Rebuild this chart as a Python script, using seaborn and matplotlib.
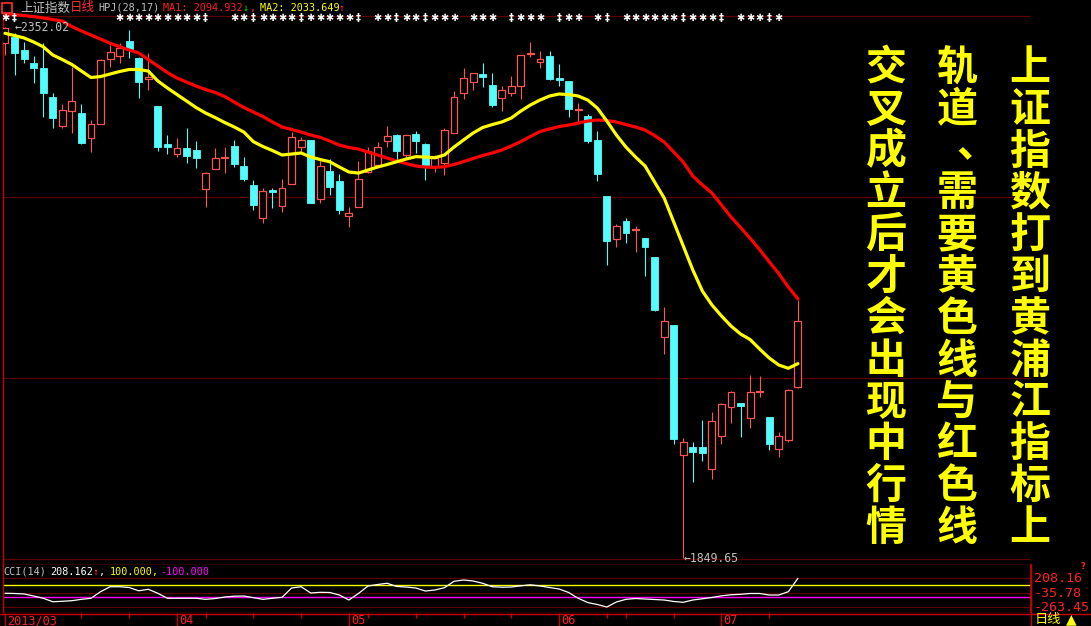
import matplotlib
matplotlib.use('Agg')
import matplotlib.pyplot as plt
import matplotlib.transforms as mtrans
from matplotlib.lines import Line2D
import numpy as np
import seaborn as sns

# ---- data (上证指数 daily, 2013-03-06 .. 2013-07-11) ----
opens = [2337.2, 2342.9, 2330.3, 2318.3, 2313.0, 2285.6, 2258.7, 2272.6, 2270.4, 2246.8,
         2260.3, 2321.5, 2324.9, 2338.8, 2322.4, 2302.6, 2277.3, 2241.4, 2231.6, 2237.6,
         2235.7, 2198.5, 2217.4, 2227.8, 2239.5, 2220.6, 2202.6, 2171.1, 2197.9, 2183.0,
         2203.3, 2238.8, 2245.2, 2189.1, 2216.1, 2206.4, 2173.3, 2181.5, 2215.2, 2221.5,
         2244.5, 2249.9, 2231.0, 2250.8, 2241.4, 2219.9, 2223.7, 2252.1, 2289.3, 2300.3,
         2307.6, 2297.2, 2284.6, 2289.9, 2296.5, 2326.5, 2319.2, 2324.6, 2303.5, 2301.0,
         2273.3, 2267.9, 2245.2, 2192.2, 2151.8, 2168.5, 2160.3, 2152.2, 2134.2, 2059.1,
         2070.1, 1947.5, 1954.7, 1954.7, 1934.2, 1965.4, 1992.9, 1996.4, 1982.5, 2006.5,
         1983.1, 1953.1, 1961.4, 2011.2]
highs = [2352.02, 2346.4, 2338.2, 2324.6, 2336.6, 2289.3, 2279.2, 2314.5, 2279.2, 2264.1,
         2321.5, 2335.0, 2336.6, 2349.2, 2324.0, 2327.2, 2277.3, 2249.9, 2246.8, 2256.2,
         2244.2, 2214.6, 2237.9, 2238.8, 2245.2, 2229.4, 2207.3, 2199.5, 2200.0, 2208.0,
         2253.0, 2248.3, 2245.2, 2226.2, 2226.9, 2213.0, 2181.5, 2225.3, 2238.8, 2243.0,
         2258.4, 2250.8, 2249.9, 2253.7, 2242.6, 2231.0, 2256.2, 2291.5, 2313.6, 2308.3,
         2318.3, 2308.8, 2296.2, 2305.7, 2325.6, 2338.2, 2329.4, 2329.4, 2317.1, 2301.0,
         2279.9, 2269.5, 2253.7, 2192.2, 2165.4, 2171.7, 2163.8, 2152.2, 2134.2, 2087.5,
         2070.1, 1963.0, 1959.5, 1980.3, 1987.8, 1996.1, 2007.7, 1996.4, 2022.8, 2021.9,
         1983.1, 1968.9, 2009.6, 2093.8]
lows = [2325.6, 2306.6, 2317.7, 2299.4, 2267.2, 2256.2, 2256.2, 2252.1, 2241.4, 2234.1,
        2260.3, 2314.5, 2318.3, 2323.0, 2284.6, 2292.5, 2235.0, 2231.6, 2229.4, 2223.1,
        2219.0, 2182.1, 2217.4, 2214.2, 2219.3, 2206.7, 2178.9, 2166.9, 2180.5, 2177.3,
        2203.3, 2234.1, 2185.3, 2185.8, 2193.1, 2175.2, 2162.6, 2181.5, 2214.2, 2219.9,
        2238.3, 2226.2, 2227.8, 2233.1, 2207.3, 2215.2, 2212.0, 2251.5, 2283.9, 2292.5,
        2295.6, 2276.7, 2272.9, 2286.8, 2283.9, 2324.0, 2313.6, 2301.9, 2296.2, 2267.2,
        2262.5, 2242.6, 2206.7, 2126.9, 2144.2, 2148.0, 2139.5, 2116.5, 2083.7, 2043.0,
        1957.6, 1849.65, 1921.9, 1941.8, 1924.8, 1957.3, 1977.7, 1964.5, 1973.0, 2002.3,
        1951.9, 1945.6, 1959.8, 2010.3]
closes = [2350.8, 2327.7, 2321.8, 2313.6, 2289.3, 2266.3, 2273.5, 2282.1, 2242.0, 2260.0,
          2320.8, 2328.1, 2331.9, 2331.0, 2300.3, 2304.5, 2238.8, 2238.8, 2237.3, 2230.3,
          2227.8, 2213.7, 2227.8, 2228.8, 2222.2, 2208.5, 2183.7, 2196.9, 2195.7, 2199.5,
          2247.7, 2245.2, 2185.8, 2220.6, 2201.0, 2178.9, 2175.8, 2208.0, 2234.8, 2238.3,
          2248.9, 2235.0, 2249.9, 2244.5, 2220.6, 2227.8, 2254.6, 2285.6, 2303.5, 2308.3,
          2305.0, 2278.3, 2292.5, 2296.2, 2325.6, 2327.2, 2321.5, 2302.9, 2301.9, 2274.5,
          2274.2, 2244.5, 2213.0, 2149.9, 2163.8, 2157.5, 2161.0, 2144.2, 2084.3, 2073.6,
          1962.6, 1959.2, 1950.3, 1949.3, 1979.0, 1995.4, 2006.5, 1993.8, 2006.5, 2007.4,
          1957.9, 1965.1, 2008.7, 2073.9]

# MA1 (red) and MA2 (yellow)
ma1 = [2364.4, 2363.9, 2362.9, 2362.0, 2360.6, 2359.2, 2357.7, 2352.5, 2348.3, 2344.5,
       2340.7, 2336.6, 2333.6, 2330.3, 2327.5, 2321.3, 2315.2, 2309.0, 2303.8, 2300.0,
       2296.2, 2292.9, 2290.1, 2286.3, 2281.1, 2275.9, 2271.6, 2267.4, 2262.2, 2257.5,
       2255.1, 2252.7, 2249.9, 2247.7, 2244.2, 2240.4, 2238.1, 2236.6, 2233.8, 2231.0,
       2228.1, 2225.3, 2222.9, 2220.6, 2219.6, 2219.3, 2219.9, 2222.0, 2224.8, 2227.7,
       2230.5, 2232.9, 2235.7, 2239.5, 2243.7, 2248.5, 2253.2, 2255.6, 2257.9, 2259.3,
       2261.2, 2263.1, 2264.1, 2263.6, 2262.2, 2259.8, 2257.5, 2254.6, 2249.4, 2243.3,
       2233.8, 2224.3, 2211.1, 2202.6, 2195.0, 2183.7, 2172.3, 2162.4, 2152.1, 2141.4,
       2130.0, 2118.7, 2106.1, 2094.9]
ma2 = [2346.1, 2344.0, 2341.7, 2337.9, 2333.4, 2325.6, 2321.3, 2316.6, 2310.4, 2304.3,
       2305.2, 2307.6, 2310.0, 2311.9, 2311.9, 2310.4, 2301.0, 2294.4, 2288.2, 2282.1,
       2275.9, 2270.7, 2266.4, 2261.7, 2257.5, 2252.7, 2243.6, 2239.0, 2235.2, 2231.0,
       2231.9, 2232.9, 2229.1, 2226.7, 2224.6, 2219.6, 2214.9, 2213.9, 2216.8, 2219.6,
       2222.0, 2224.6, 2227.2, 2229.4, 2229.1, 2228.4, 2231.0, 2238.5, 2245.2, 2251.8,
       2257.0, 2259.8, 2262.2, 2266.0, 2272.6, 2278.3, 2283.0, 2286.8, 2288.7, 2288.2,
       2286.8, 2283.0, 2275.4, 2263.1, 2249.9, 2238.5, 2229.1, 2220.6, 2205.4, 2190.3,
       2167.6, 2144.9, 2122.2, 2102.3, 2089.1, 2078.7, 2069.2, 2061.6, 2056.4, 2047.4,
       2038.9, 2032.3, 2029.2, 2033.6]

cci = [-35, -38, -46, -79, -116, -172, -165, -155, -133, -116,
       -9, 72, 72, 59, 6, 30, -35, -116, -116, -116,
       -116, -133, -120, -95, -82, -79, -106, -133, -116, -100,
       51, 72, -30, -19, -22, -63, -144, -38, 84, 108,
       128, 76, 67, 51, 2, 19, 56, 160, 181, 165,
       128, 72, 64, 67, 87, 103, 84, 59, 35, -22,
       -116, -185, -217, -258, -176, -133, -120, -128, -136, -144,
       -168, -181, -144, -124, -103, -76, -59, -51, -38, -38,
       -63, -63, -9, 208.162]

price_grid = [2362.3, 2191.0, 2019.7, 1848.4]
cci_grid = [208.16, -35.78, -263.45]
cci_labels = ['208.16', '-35.78', '-263.45']

month_pos = [0, 18, 36, 58, 75]
month_labels = ['2013/03', '04', '05', '06', '07']
week_pos = [8, 13, 21, 26, 31, 38, 43, 48, 53, 63, 65, 70, 80]

star_pos = [0, 1] + list(range(12, 22)) + list(range(24, 38)) + list(range(39, 48)) + \
           [49, 50, 51, 53, 54, 55, 56, 58, 59, 60, 62, 63] + list(range(65, 76)) + \
           [77, 78, 79, 80, 81]
dagger_pos = [1, 21, 26, 31, 37, 41, 44, 53, 58, 63, 71, 75, 80]

title_lines = ['上证指数打到黄浦江指标上', '轨道、需要黄色线与红色线', '交叉成立后才会出现中行情']

# ---- styling ----
sns.set_theme(style='dark', rc={'axes.facecolor': 'black', 'figure.facecolor': 'black'})
plt.rcParams['font.family'] = ['DejaVu Sans Mono', 'Noto Sans CJK SC']
CJK = ['Noto Sans CJK SC', 'DejaVu Sans']
MONO = ['DejaVu Sans Mono', 'DejaVu Sans']

UP = '#FF5454'
DOWN = '#54FCFC'
GRID = '#5e0000'
BORDER = '#c80000'

W, H = 1091, 626
fig = plt.figure(figsize=(W / 100, H / 100), dpi=100)
fig.patch.set_facecolor('black')


def fx(px):
    return px / W


def fy(py):
    return 1 - py / H


x = np.arange(len(opens))
o = np.array(opens); c = np.array(closes); h = np.array(highs); l = np.array(lows)
up = c >= o
dn = ~up

ax = fig.add_axes([fx(3), fy(565), 1028 / W, 562 / H])
axc = fig.add_axes([fx(3), fy(613), 1028 / W, 48 / H], sharex=ax)
axd = fig.add_axes([fx(3), 0, 1028 / W, 13 / H], sharex=ax)

for a in (ax, axc, axd):
    a.set_facecolor('black')
    a.set_xticks([]); a.set_yticks([])
    for s in a.spines.values():
        s.set_visible(False)
    a.grid(False)

ax.set_xlim(-0.21, 107.4)
ax.set_ylim(1843.1, 2374.8)
axc.set_ylim(-355.3, 425.2)
axd.set_ylim(0, 1)

for a in (ax, axc):
    a.spines['left'].set_visible(True)
    a.spines['left'].set_color(BORDER)
    a.spines['bottom'].set_visible(True)
    a.spines['bottom'].set_color(BORDER)
    a.spines['left'].set_linewidth(1.0)
    a.spines['bottom'].set_linewidth(1.0)
axc.spines['right'].set_visible(True)
axc.spines['right'].set_color(BORDER)

# grid lines
for g in price_grid:
    ax.axhline(g, color=GRID, lw=0.9, zorder=0)
for g in cci_grid:
    axc.axhline(g, color=GRID, lw=0.9, zorder=0)

# candles
bw = 0.72
ax.vlines(x[dn], l[dn], h[dn], color=DOWN, lw=0.8, zorder=2)
ax.bar(x[dn], o[dn] - c[dn], bottom=c[dn], width=bw, color=DOWN, edgecolor=DOWN,
       linewidth=0.6, zorder=3)
ax.vlines(x[up], c[up], h[up], color=UP, lw=0.8, zorder=2)
ax.vlines(x[up], l[up], o[up], color=UP, lw=0.8, zorder=2)
ax.bar(x[up], np.maximum(c[up] - o[up], 0.4), bottom=o[up], width=bw, facecolor='black',
       edgecolor=UP, linewidth=0.9, zorder=3)

# moving averages
sns.lineplot(x=x, y=ma1, ax=ax, color='#FF0000', linewidth=2.3, zorder=5, legend=False)
sns.lineplot(x=x, y=ma2, ax=ax, color='#FFFF00', linewidth=2.3, zorder=5, legend=False)
ax.set_xlabel(''); ax.set_ylabel('')

# high / low marks
imax = int(np.argmax(h)); imin = int(np.argmin(l))
ax.text(imax + 1.0, h[imax], '←%.2f' % h[imax], color='#C0C0C0', fontsize=8.3,
        family=MONO, ha='left', va='center', zorder=6)
ax.text(imin, l[imin], '←%.2f' % l[imin], color='#C0C0C0', fontsize=8.3,
        family=MONO, ha='left', va='center', zorder=6)

# info-mine markers on top row
tr = mtrans.blended_transform_factory(ax.transData, ax.transAxes)
for p in star_pos:
    ch = '‡' if p in dagger_pos else '✱'
    ax.text(p, 0.974, ch, transform=tr, color='white', fontsize=7, family=['DejaVu Sans'],
            ha='center', va='center', fontweight='bold', zorder=7)

# CCI panel
axc.axhline(100, color='#FFFF00', lw=1.0, zorder=1)
axc.axhline(-100, color='#FF00FF', lw=1.0, zorder=1)
sns.lineplot(x=x, y=cci, ax=axc, color='white', linewidth=0.9, zorder=4, legend=False)
axc.set_xlabel(''); axc.set_ylabel('')
trc = mtrans.blended_transform_factory(axc.transAxes, axc.transData)
for v, s in zip(cci_grid, cci_labels):
    axc.text(1.003, v, s, transform=trc, color='#FF2020', fontsize=9.6, family=MONO,
             ha='left', va='center', clip_on=False)
fig.text(fx(1083), fy(566.5), '?', color='#FF2020', fontsize=6, fontweight='bold',
         family=['DejaVu Sans'], ha='center', va='center')

# date row
axd.vlines(month_pos, 0, 1, color=BORDER, lw=1.0)
axd.vlines(week_pos, 0.6, 1, color=BORDER, lw=1.0)
for p, s in zip(month_pos, month_labels):
    axd.text(p + 0.2, 0.42, s, color='#FF2020', fontsize=8.6, family=MONO,
             ha='left', va='center')
fig.add_artist(Line2D([fx(0), fx(1031)], [fy(613.5), fy(613.5)], color=BORDER, lw=1.0))
fig.add_artist(Line2D([fx(1031), fx(1031)], [fy(565), fy(626)], color=BORDER, lw=1.0))
fig.add_artist(Line2D([fx(1031), fx(1091)], [fy(613.5), fy(613.5)], color=BORDER, lw=1.0))
fig.text(fx(1035), fy(619.5), '日线', color='#FFFF00', fontsize=9.5, family=CJK,
         ha='left', va='center')
fig.text(fx(1066), fy(619.5), '▲', color='#FFFF00', fontsize=10, family=['DejaVu Sans'],
         ha='left', va='center')

# header
hy = fy(8)
fig.patches.append(plt.Rectangle((fx(2), fy(13)), 10 / W, 10 / H, transform=fig.transFigure,
                                 facecolor='black', edgecolor='#FF3030', lw=1.2))
fig.text(fx(20), hy, '上证指数', color='#C0C0C0', fontsize=9, family=CJK, ha='left', va='center')
fig.text(fx(70), hy, '日线', color='#FF3030', fontsize=9, family=CJK, ha='left', va='center')
fig.text(fx(98), hy, 'HPJ(28,17)', color='#C0C0C0', fontsize=7.3, family=MONO, ha='left', va='center')
fig.text(fx(163), hy, 'MA1: %.3f' % 2094.932, color='#FF2020', fontsize=7.3, family=MONO,
         ha='left', va='center')
fig.text(fx(243), hy, '↓', color='#00E000', fontsize=7.3, family=MONO, ha='left', va='center')
fig.text(fx(250), hy, ',', color='#FF2020', fontsize=7.3, family=MONO, ha='left', va='center')
fig.text(fx(260), hy, 'MA2: %.3f' % 2033.649, color='#FFFF00', fontsize=7.3, family=MONO,
         ha='left', va='center')
fig.text(fx(339), hy, '↑', color='#FF3030', fontsize=7.3, family=MONO, ha='left', va='center')

# CCI header
cy = fy(572)
fig.text(fx(3), cy, 'CCI(14)', color='#C0C0C0', fontsize=7.3, family=MONO, ha='left', va='center')
fig.text(fx(50), cy, '%.3f' % cci[-1], color='white', fontsize=7.3, family=MONO, ha='left', va='center')
fig.text(fx(93), cy, '↑', color='#FF3030', fontsize=7.3, family=MONO, ha='left', va='center')
fig.text(fx(99), cy, ',', color='white', fontsize=7.3, family=MONO, ha='left', va='center')
fig.text(fx(110), cy, '100.000,', color='#FFFF00', fontsize=7.3, family=MONO, ha='left', va='center')
fig.text(fx(160), cy, '-100.000', color='#FF00FF', fontsize=7.3, family=MONO, ha='left', va='center')

# big vertical annotation text (right to left columns)
col_x = [1030, 957, 886]
for cx, line in zip(col_x, title_lines):
    for k, ch in enumerate(line):
        py = 68 + 41.8 * k
        px = cx
        if ch == '、':
            px, py = cx + 20, py - 6
        fig.text(fx(px), fy(py), ch, color='#FFFF00', fontsize=29.5, family=CJK,
                 fontweight='bold', ha='center', va='center')

fig.savefig('out.png', dpi=100, facecolor='black')
